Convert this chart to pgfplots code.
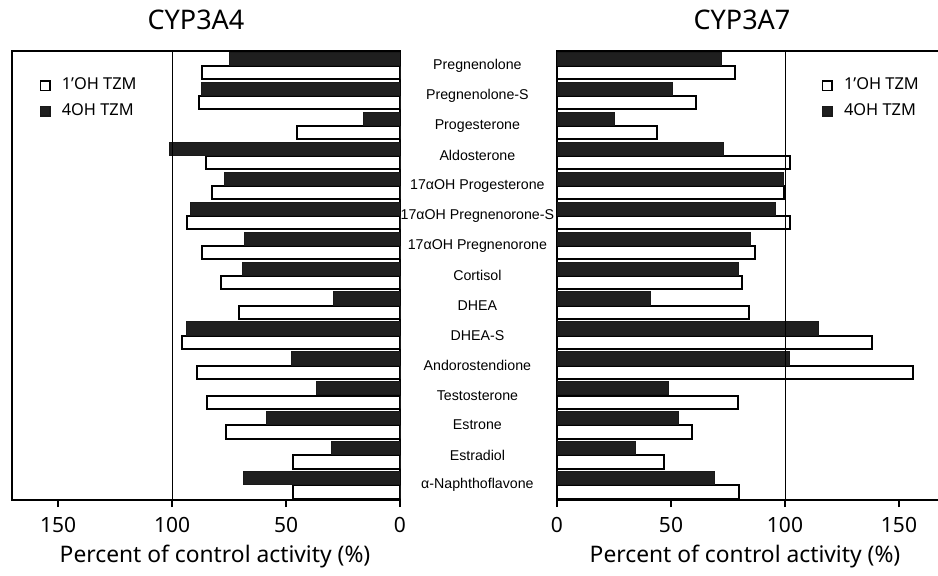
\documentclass[border=0pt]{standalone}
\usepackage{fontspec}
\setmainfont{Noto Sans}
\newfontfamily\catfont{Liberation Sans}
\usepackage{pgfplots}
\usepackage{pgfplotstable}
\pgfplotsset{compat=1.18}

% idx: steroid (row order top to bottom)
% a1/a4: CYP3A4 with 1'OH / 4OH TZM; b1/b4: CYP3A7 with 1'OH / 4OH TZM
\pgfplotstableread{
idx  a1    a4    b1    b4
0    87    75    78    72
1    88    87    61    50.5
2    45    16    44    25
3    85    101   102   73
4    82.5  77    99.5  99.5
5    93.5  92    102   96
6    87    68    87    85
7    78.5  69    81    79.5
8    70.5  29    84    41
9    95.5  93.5  138   114.5
10   89    47.5  156   102
11   84.5  36.5  79.5  49
12   76.5  58.5  59    53.5
13   47    30    47    34.5
14   47    68.5  80    69
}\inhib

\pgfplotsset{
  panel/.style={
    scale only axis, height=224.5pt,
    xbar, bar width=0.44,
    ymin=-0.5, ymax=14.5, y dir=reverse,
    xmin=0,
    xtick={0,50,100,150}, xtick pos=left, tick align=outside,
    major tick length=3.5pt,
    xtick style={black, line width=1pt},
    ytick style={draw=none},
    axis line style={line width=1pt},
    ticklabel style={font=\fontsize{10.5}{12}\selectfont},
    xticklabel style={yshift=-1.5pt},
    /pgf/number format/assume math mode=true,
    xlabel={Percent of control activity (\%)},
    xlabel style={font=\fontsize{11.4}{13}\selectfont, at={(axis description cs:0.5,0)}, anchor=center, yshift=-28.5pt},
    title style={font=\fontsize{13.5}{15}\selectfont, at={(axis description cs:0.5,1)}, anchor=base, yshift=5pt},
    legend style={draw=none, fill=none, anchor=north west, inner sep=0pt,
      font=\fontsize{8.2}{9}\selectfont, row sep=3.5pt,
      nodes={inner sep=1pt},
      /tikz/every odd column/.append style={column sep=4.5pt}},
    legend cell align=left,
    legend image code/.code={\draw[#1, line width=0.8pt] (0pt,-2.4pt) rectangle (4.8pt,2.4pt);},
  },
  open bar/.style={draw=black, fill=white, line width=1pt, bar shift=0.23},
  dark bar/.style={draw=black!90, fill=black!88, line width=0.5pt, bar shift=-0.23},
}

\begin{document}
\begin{tikzpicture}
\useasboundingbox (0,0) rectangle (469pt,287.5pt);

% CYP3A4: bars grow to the left from zero
\begin{axis}[panel,
  at={(6pt,37.5pt)}, anchor=south west,
  width=194pt, xmax=170.2, x dir=reverse,
  title={CYP3A4}, title style={xshift=-5pt},
  xlabel style={xshift=4.5pt},
  ytick={0,...,14}, yticklabel pos=right,
  yticklabels={Pregnenolone, Pregnenolone-S, Progesterone, Aldosterone,
    17αOH Progesterone, 17αOH Pregnenorone-S, 17αOH Pregnenorone,
    Cortisol, DHEA, DHEA-S, Andorostendione, Testosterone, Estrone,
    Estradiol, α-Naphthoflavone},
  yticklabel style={font=\catfont\fontsize{7.1}{8}\selectfont, anchor=center, xshift=35.2pt},
  legend style={at={(axis description cs:0.07,0.945)}},
]
\addplot[open bar] table[x=a1, y=idx] {\inhib};
\addplot[dark bar] table[x=a4, y=idx] {\inhib};
\legend{1'OH TZM, 4OH TZM}
\draw[line width=0.5pt] (axis cs:100,-0.5) -- (axis cs:100,14.5);
\end{axis}

% CYP3A7: bars grow to the right from zero
\begin{axis}[panel,
  at={(278.5pt,37.5pt)}, anchor=south west,
  width=193pt, xmax=169.3,
  title={CYP3A7}, title style={xshift=-4pt},
  xlabel style={xshift=-2.5pt},
  ytick=\empty,
  legend style={at={(axis description cs:0.685,0.945)}},
]
\addplot[open bar] table[x=b1, y=idx] {\inhib};
\addplot[dark bar] table[x=b4, y=idx] {\inhib};
\legend{1'OH TZM, 4OH TZM}
\draw[line width=0.5pt] (axis cs:100,-0.5) -- (axis cs:100,14.5);
\end{axis}
\end{tikzpicture}
\end{document}
